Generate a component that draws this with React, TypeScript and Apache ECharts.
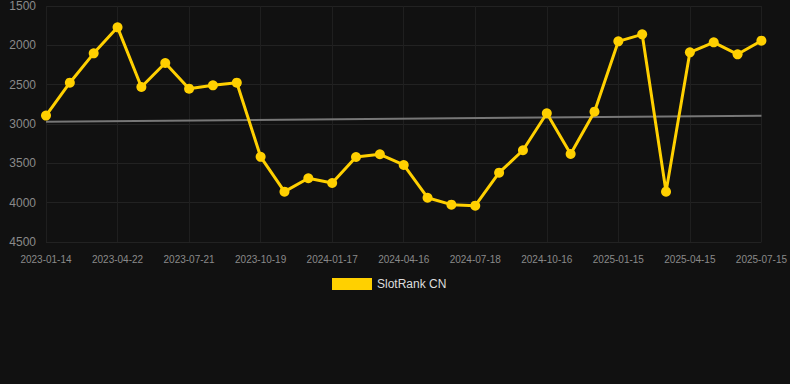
import React, { useEffect, useRef } from "react";
import * as echarts from "echarts";

const dates = [
  "2023-01-14", "2023-02-13", "2023-03-15", "2023-04-22", "2023-05-22", "2023-06-21",
  "2023-07-21", "2023-08-20", "2023-09-19", "2023-10-19", "2023-11-18", "2023-12-18",
  "2024-01-17", "2024-02-16", "2024-03-17", "2024-04-16", "2024-05-16", "2024-06-17",
  "2024-07-18", "2024-08-17", "2024-09-16", "2024-10-16", "2024-11-15", "2024-12-15",
  "2025-01-15", "2025-02-14", "2025-03-16", "2025-04-15", "2025-05-15", "2025-06-14",
  "2025-07-15",
];

const rankCN = [
  2893, 2475, 2102, 1771, 2530, 2225, 2551, 2508, 2475, 3417,
  3860, 3690, 3750, 3419, 3385, 3521, 3937, 4025, 4038, 3619,
  3334, 2864, 3381, 2843, 1949, 1860, 3860, 2089, 1962, 2114,
  1941,
];

const trendStart = 2971;
const trendEnd = 2894;

const yTicks = { min: 1500, max: 4500, interval: 500 };

export default function App() {
  const ref = useRef<HTMLDivElement>(null);
  useEffect(() => {
    if (!ref.current) return;
    const chart = echarts.init(ref.current, null, { renderer: "svg" });
    chart.setOption({
      animation: false,
      backgroundColor: "#111111",
      textStyle: { fontFamily: "Liberation Sans, Arial, sans-serif" },
      grid: { left: 46, right: 28, top: 6, bottom: 142, containLabel: false },
      legend: {
        top: 273,
        left: 327,
        itemWidth: 40,
        itemHeight: 12,
        icon: "rect",
        textStyle: { color: "#dddddd", fontSize: 12 },
        data: ["SlotRank CN"],
      },
      xAxis: {
        type: "category",
        data: dates,
        boundaryGap: false,
        axisLine: { show: false },
        axisTick: { show: false },
        axisLabel: { interval: 2, color: "#8a8a8a", fontSize: 10, margin: 12 },
        splitLine: { show: true, interval: 2, lineStyle: { color: "#1f1f1f", width: 1 } },
      },
      yAxis: {
        type: "value",
        inverse: true,
        min: yTicks.min,
        max: yTicks.max,
        interval: yTicks.interval,
        axisLine: { show: false },
        axisTick: { show: false },
        axisLabel: {
          color: "#8a8a8a",
          fontSize: 12,
          margin: 10,
          formatter: (v: number) => String(v),
        },
        splitLine: { lineStyle: { color: "#222222", width: 1 } },
      },
      series: [
        {
          name: "SlotRank CN",
          type: "line",
          data: rankCN,
          color: "#FFD000",
          lineStyle: { width: 3, color: "#FFD000" },
          itemStyle: { color: "#FFD000" },
          symbol: "circle",
          symbolSize: 10,
          showSymbol: true,
          z: 3,
          markLine: {
            silent: true,
            symbol: ["none", "none"],
            label: { show: false },
            lineStyle: { color: "#777777", width: 2, type: "solid" },
            z: 2,
            data: [
              [
                { coord: [dates[0], trendStart] },
                { coord: [dates[dates.length - 1], trendEnd] },
              ],
            ],
          },
        },
      ],
    });
    return () => chart.dispose();
  }, []);
  return (
    <div
      ref={ref}
      style={{ position: "fixed", left: 0, top: 0, width: 790, height: 384 }}
    />
  );
}
